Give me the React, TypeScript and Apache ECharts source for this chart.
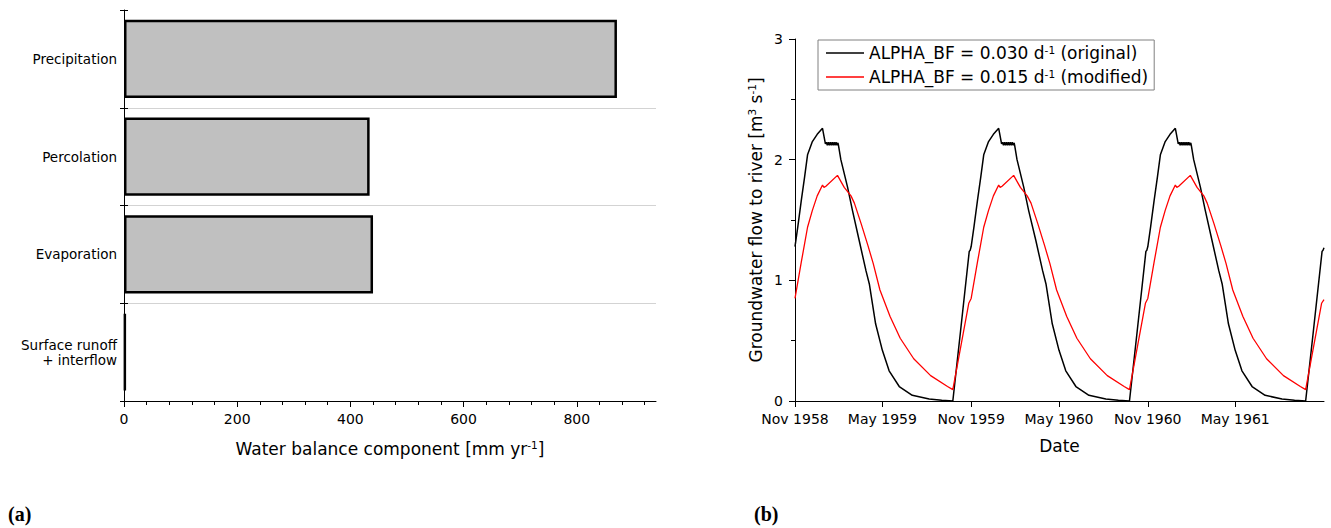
import React, { useEffect, useRef } from "react";
import * as echarts from "echarts";

// ---------- Panel (a): water balance ----------
const balanceCategories = ["Precipitation", "Percolation", "Evaporation", "Surface runoff\n+ interflow"];
const balanceValues = [871, 434, 440, 3];
const balanceMajorTicks = [0, 200, 400, 600, 800];
const balanceMinorTicks = [0, 40, 80, 120, 160, 200, 240, 280, 320, 360, 400, 440, 480, 520, 560, 600, 640, 680, 720, 760, 800, 840, 880, 920];
const balanceMax = 940;

// ---------- Panel (b): groundwater flow ----------
const cycleStartYears = [1958, 1959, 1960];
const blackDays = ["11-01", "11-07", "11-14", "11-21", "11-27", "12-07", "12-17", "12-28", "01-03", "01-05", "01-07", "01-09", "01-11", "01-13", "01-15", "01-17", "01-19", "01-21", "01-23", "01-25", "01-27", "01-29", "01-30", "02-04", "02-18", "02-28", "03-14", "03-28", "04-04", "04-17", "05-01", "05-15", "06-05", "07-02", "08-06", "09-01", "09-24", "10-10", "10-28", "10-30"];
const black1958 = [1.28, 1.45, 1.66, 1.86, 2.04, 2.15, 2.21, 2.26, 2.13, 2.145, 2.12, 2.145, 2.12, 2.145, 2.12, 2.145, 2.12, 2.145, 2.12, 2.145, 2.12, 2.14, 2.12, 2.00, 1.77, 1.58, 1.33, 1.08, 0.97, 0.64, 0.42, 0.25, 0.12, 0.047, 0.017, 0.006, 0.0, 0.58, 1.24, 1.25];
const black1959 = [1.28, 1.45, 1.66, 1.86, 2.04, 2.15, 2.21, 2.26, 2.13, 2.145, 2.12, 2.145, 2.12, 2.145, 2.12, 2.145, 2.12, 2.145, 2.12, 2.145, 2.12, 2.14, 2.12, 2.00, 1.77, 1.58, 1.33, 1.08, 0.97, 0.64, 0.42, 0.25, 0.12, 0.047, 0.017, 0.006, 0.0, 0.58, 1.24, 1.25];
const black1960 = [1.28, 1.45, 1.66, 1.86, 2.04, 2.15, 2.21, 2.26, 2.13, 2.145, 2.12, 2.145, 2.12, 2.145, 2.12, 2.145, 2.12, 2.145, 2.12, 2.145, 2.12, 2.14, 2.12, 2.00, 1.77, 1.58, 1.33, 1.08, 0.97, 0.64, 0.42, 0.25, 0.12, 0.047, 0.017, 0.006, 0.0, 0.58, 1.24, 1.25];
const redDays = ["11-01", "11-14", "11-27", "12-07", "12-17", "12-28", "12-31", "01-04", "01-28", "02-11", "02-25", "03-04", "03-18", "04-01", "04-12", "04-26", "05-17", "06-07", "07-05", "08-09", "09-13", "09-24", "10-27"];
const red1958 = [0.85, 1.15, 1.44, 1.58, 1.70, 1.79, 1.77, 1.78, 1.87, 1.77, 1.70, 1.64, 1.47, 1.29, 1.14, 0.92, 0.70, 0.52, 0.35, 0.21, 0.12, 0.094, 0.81];
const red1959 = [0.85, 1.15, 1.44, 1.58, 1.70, 1.79, 1.77, 1.78, 1.87, 1.77, 1.70, 1.64, 1.47, 1.29, 1.14, 0.92, 0.70, 0.52, 0.35, 0.21, 0.12, 0.094, 0.81];
const red1960 = [0.85, 1.15, 1.44, 1.58, 1.70, 1.79, 1.77, 1.78, 1.87, 1.77, 1.70, 1.64, 1.47, 1.29, 1.14, 0.92, 0.70, 0.52, 0.35, 0.21, 0.12, 0.094, 0.81];
const endDate = "1961-11-01";
const blackEnd = 1.27;
const redEnd = 0.84;
const timeStart = "1958-11-01";
const timeEnd = "1961-11-01";
const timeTickDates = ["1958-11-01", "1959-05-01", "1959-11-01", "1960-05-01", "1960-11-01", "1961-05-01"];
const monthNames = ["Jan", "Feb", "Mar", "Apr", "May", "Jun", "Jul", "Aug", "Sep", "Oct", "Nov", "Dec"];

const FONT = "DejaVu Sans";

function ts(s: string): number {
  const [y, m, d] = s.split("-").map(Number);
  return new Date(y, m - 1, d).getTime();
}

function buildSeries(days: string[], cycles: number[][], endVal: number): [number, number][] {
  const out: [number, number][] = [];
  cycles.forEach((vals, ci) => {
    const y0 = cycleStartYears[ci];
    days.forEach((md, i) => {
      const month = Number(md.slice(0, 2));
      const year = month >= 11 ? y0 : y0 + 1;
      out.push([ts(`${year}-${md}`), vals[i]]);
    });
  });
  out.push([ts(endDate), endVal]);
  return out;
}

export default function App() {
  const ref = useRef<HTMLDivElement>(null);

  useEffect(() => {
    if (!ref.current) return;
    const chart = echarts.init(ref.current, undefined, { renderer: "svg" });
    const blackData = buildSeries(blackDays, [black1958, black1959, black1960], blackEnd);
    const redData = buildSeries(redDays, [red1958, red1959, red1960], redEnd);
    const axisLine = { show: true, lineStyle: { color: "#000", width: 1 } };
    const labelStyle = { color: "#000", fontSize: 14, fontFamily: FONT };
    const sup = { fontSize: 10.5, fontFamily: FONT, color: "#000", verticalAlign: "bottom", padding: [0, 0, 8, 0] };
    const timeTicks = timeTickDates.map(ts);

    chart.setOption({
      animation: false,
      backgroundColor: "#fff",
      textStyle: { fontFamily: FONT },
      grid: [
        { left: 124, top: 10, width: 532, height: 391, containLabel: false },
        { left: 795, top: 39, width: 529, height: 362, containLabel: false },
      ],
      xAxis: [
        {
          type: "value",
          gridIndex: 0,
          position: "bottom",
          min: 0,
          max: balanceMax,
          axisLine: { ...axisLine, onZero: false },
          axisTick: { show: true, length: 6, inside: false, lineStyle: { color: "#000" }, customValues: balanceMajorTicks },
          axisLabel: { ...labelStyle, margin: 11, customValues: balanceMajorTicks },
          splitLine: { show: false },
          name: "Water balance component [mm yr{sup|-1}]",
          nameLocation: "middle",
          nameGap: 38,
          nameTextStyle: { color: "#000", fontSize: 17, fontFamily: FONT, rich: { sup } },
        },
        {
          type: "value",
          gridIndex: 0,
          position: "bottom",
          min: 0,
          max: balanceMax,
          axisLine: { show: false, onZero: false },
          axisTick: { show: true, length: 4, lineStyle: { color: "#000" }, customValues: balanceMinorTicks },
          axisLabel: { show: false },
          splitLine: { show: false },
        },
        {
          type: "value",
          gridIndex: 1,
          position: "bottom",
          min: ts(timeStart),
          max: ts(timeEnd),
          axisLine: { ...axisLine, onZero: false },
          axisTick: { show: true, length: 6, lineStyle: { color: "#000" }, customValues: timeTicks },
          axisLabel: {
            ...labelStyle,
            margin: 11,
            customValues: timeTicks,
            formatter: (v: number) => {
              const d = new Date(v);
              return `${monthNames[d.getMonth()]} ${d.getFullYear()}`;
            },
          },
          splitLine: { show: false },
          name: "Date",
          nameLocation: "middle",
          nameGap: 36,
          nameTextStyle: { color: "#000", fontSize: 17, fontFamily: FONT },
        },
      ],
      yAxis: [
        {
          type: "category",
          gridIndex: 0,
          position: "left",
          inverse: true,
          data: balanceCategories,
          axisLine: { ...axisLine, onZero: false },
          axisTick: { show: true, length: 4, inside: false, lineStyle: { color: "#000" } },
          axisLabel: { ...labelStyle, fontSize: 13.5, margin: 7, lineHeight: 15 },
          splitLine: { show: true, showMinLine: false, showMaxLine: false, lineStyle: { color: "#d3d3d3", width: 1 } },
        },
        {
          type: "category",
          gridIndex: 0,
          position: "left",
          inverse: true,
          data: balanceCategories,
          axisLine: { show: false, onZero: false },
          axisTick: { show: true, length: 4, inside: true, lineStyle: { color: "#000" } },
          axisLabel: { show: false },
          splitLine: { show: false },
        },
        {
          type: "value",
          gridIndex: 1,
          position: "left",
          min: 0,
          max: 3,
          interval: 1,
          axisLine: { ...axisLine, onZero: false },
          axisTick: { show: true, length: 6, lineStyle: { color: "#000" } },
          minorTick: { show: true, splitNumber: 2, length: 4, lineStyle: { color: "#000" } },
          axisLabel: { ...labelStyle, margin: 12 },
          splitLine: { show: false },
          name: "Groundwater flow to river [m{sup|3} s{sup|-1}]",
          nameLocation: "middle",
          nameRotate: 90,
          nameGap: 30,
          nameTextStyle: { color: "#000", fontSize: 17, fontFamily: FONT, rich: { sup } },
        },
      ],
      legend: {
        show: true,
        orient: "vertical",
        left: 818,
        top: 40,
        icon: "rect",
        itemWidth: 38,
        itemHeight: 1.4,
        itemGap: 4,
        padding: [3, 6, 3, 8],
        borderColor: "#808080",
        borderWidth: 1,
        data: ["black", "red"],
        formatter: (name: string) =>
          name === "black"
            ? "ALPHA_BF = 0.030 d{sup|-1} (original)"
            : "ALPHA_BF = 0.015 d{sup|-1} (modified)",
        textStyle: { color: "#000", fontSize: 17, fontFamily: FONT, lineHeight: 20, rich: { sup } },
      },
      series: [
        {
          type: "bar",
          name: "balance",
          xAxisIndex: 0,
          yAxisIndex: 0,
          data: balanceValues,
          barCategoryGap: "20%",
          itemStyle: { color: "#c0c0c0", borderColor: "#000", borderWidth: 2.5 },
        },
        {
          type: "line",
          name: "black",
          xAxisIndex: 2,
          yAxisIndex: 2,
          data: blackData,
          symbol: "none",
          showSymbol: false,
          lineStyle: { color: "#000", width: 1.5 },
          itemStyle: { color: "#000" },
        },
        {
          type: "line",
          name: "red",
          xAxisIndex: 2,
          yAxisIndex: 2,
          data: redData,
          symbol: "none",
          showSymbol: false,
          lineStyle: { color: "#ff0000", width: 1.3 },
          itemStyle: { color: "#ff0000" },
        },
      ],
      graphic: [
        { type: "text", left: 8, top: 504, style: { text: "(a)", fontSize: 20, fontWeight: "bold", fontFamily: "Liberation Serif", fill: "#000" } },
        { type: "text", left: 754, top: 504, style: { text: "(b)", fontSize: 20, fontWeight: "bold", fontFamily: "Liberation Serif", fill: "#000" } },
      ],
    });
    return () => chart.dispose();
  }, []);

  return <div ref={ref} style={{ position: "fixed", left: 0, top: 0, width: 1331, height: 528 }} />;
}
